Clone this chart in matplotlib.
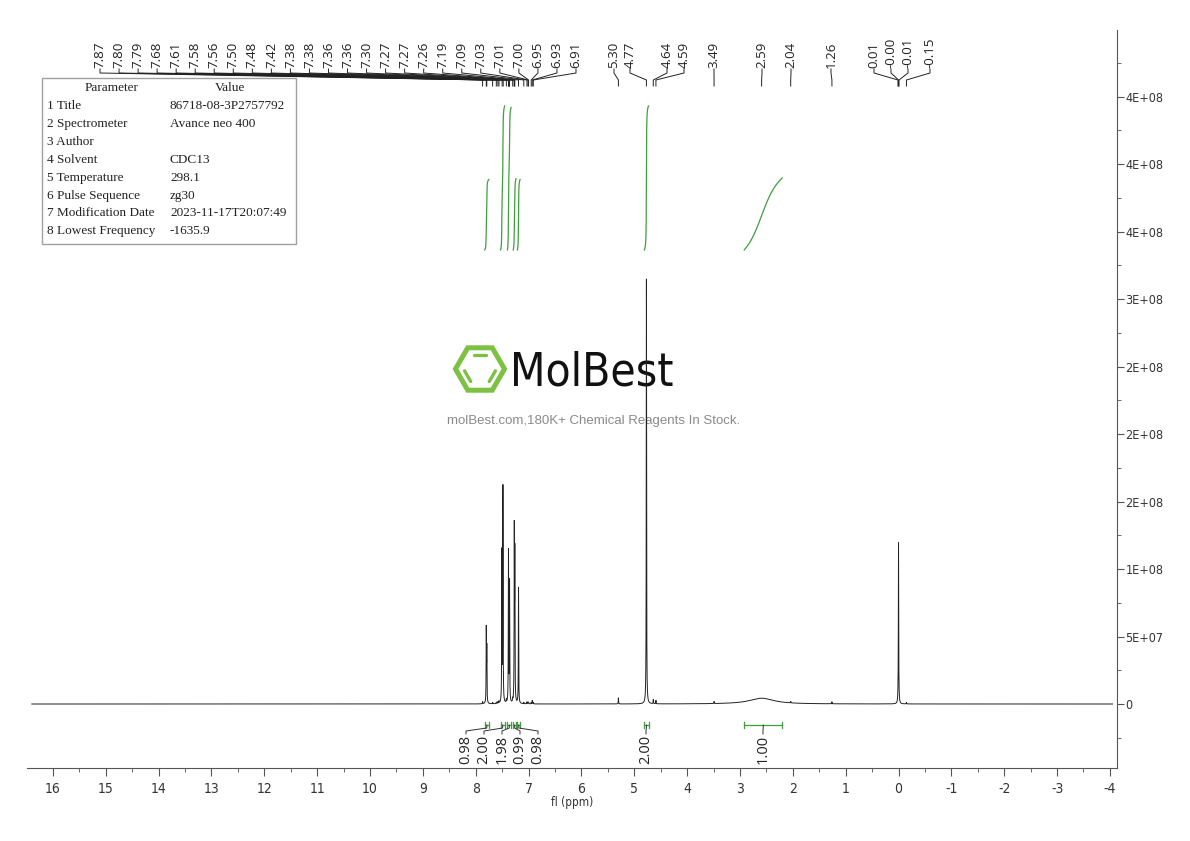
import numpy as np
import matplotlib
matplotlib.use("Agg")
import matplotlib.pyplot as plt
from matplotlib import font_manager as fm
from matplotlib.font_manager import FontProperties
from matplotlib.ticker import MultipleLocator, FuncFormatter
from matplotlib.patches import Rectangle, RegularPolygon

plt.rcParams['axes.unicode_minus'] = False

# ---- data ----
# sharp lines: shift (ppm) and height
peak_ppm = [7.87, 7.80, 7.79, 7.68, 7.61, 7.58, 7.56, 7.505, 7.485, 7.42,
            7.38, 7.36, 7.30, 7.27, 7.26, 7.19, 7.09, 7.03, 7.01, 7.00,
            6.95, 6.93, 6.91, 5.30, 4.77, 4.64, 4.59, 3.49, 2.04, 1.26,
            0.01, 0.00, -0.01, -0.15]
peak_height = [1.5e6, 5.4e7, 3.9e7, 1.0e6, 1.0e6, 1.2e6, 1.5e6, 1.11e8, 1.59e8, 2.0e6,
               1.12e8, 8.9e7, 2.0e6, 1.24e8, 1.05e8, 8.6e7, 1.0e6, 1.5e6, 1.0e6, 1.2e6,
               1.0e6, 2.5e6, 1.0e6, 4.5e6, 3.15e8, 3.0e6, 2.5e6, 1.5e6, 1.0e6, 1.5e6,
               3.0e6, 1.19e8, 3.0e6, 1.0e6]
# broad exchangeable hump
broad_ppm = 2.59
broad_height = 4.3e6
broad_width = 0.28

# labels over the peaks
top_labels = ['7.87', '7.80', '7.79', '7.68', '7.61', '7.58', '7.56', '7.50', '7.48', '7.42',
              '7.38', '7.38', '7.36', '7.36', '7.30', '7.27', '7.27', '7.26', '7.19', '7.09',
              '7.03', '7.01', '7.00', '6.95', '6.93', '6.91', '5.30', '4.77', '4.64', '4.59',
              '3.49', '2.59', '2.04', '1.26', '0.01', '-0.00', '-0.01', '-0.15']

# integration regions (from, to) and values
int_from = [7.83, 7.53, 7.40, 7.29, 7.21, 4.81, 2.92]
int_to = [7.75, 7.45, 7.33, 7.235, 7.16, 4.73, 2.20]
int_values = ['0.98', '2.00', '1.98', '0.99', '0.98', '2.00', '1.00']

param_names = ['1 Title', '2 Spectrometer', '3 Author', '4 Solvent', '5 Temperature',
               '6 Pulse Sequence', '7 Modification Date', '8 Lowest Frequency']
param_values = ['86718-08-3P2757792', 'Avance neo 400', '', 'CDC13', '298.1',
                'zg30', '2023-11-17T20:07:49', '-1635.9']

# ---- layout (pixels) ----
W, H = 1190, 841
AX_L, AX_R, AX_T, AX_B = 27, 1117, 30, 768
XLIM = (16.49, -4.134)
YLIM = (-4.74e7, 4.993e8)


def xdat(px):
    return XLIM[0] + (px - AX_L) / (AX_R - AX_L) * (XLIM[1] - XLIM[0])


def ydat(py):
    return YLIM[0] + (AX_B - py) / (AX_B - AX_T) * (YLIM[1] - YLIM[0])


# look for a condensed sans face for the tick labels and logo text
def find_narrow():
    rank = {'ultra-condensed': 0, 'extra-condensed': 0, 'condensed': 1, 'semi-condensed': 2}
    best = None
    for f in fm.fontManager.ttflist:
        if f.style != 'normal' or 'Mono' in f.name or 'Serif' in f.name:
            continue
        st = str(f.stretch)
        r = rank.get(st)
        if r is None and st.isdigit() and int(st) < 500:
            r = 1
        if r is None and ('Narrow' in f.name or 'Condensed' in f.name):
            r = 1
        if r is None:
            continue
        w = f.weight if isinstance(f.weight, (int, float)) else (700 if 'bold' in str(f.weight) else 400)
        key = (abs(w - 400), r)
        if best is None or key < best[0]:
            best = (key, f.fname)
    return best[1] if best else None


NARROW = find_narrow()


def nfont(size):
    if NARROW:
        return FontProperties(fname=NARROW, size=size)
    return FontProperties(family='DejaVu Sans', size=size * 0.8)


green = '#3f9f3f'
logo_green = '#7cc142'

fig = plt.figure(figsize=(W / 100, H / 100), dpi=100)

# overlay in pixel coords for watermark and table
bg = fig.add_axes([0, 0, 1, 1], zorder=0)
bg.set_xlim(0, W)
bg.set_ylim(H, 0)
bg.axis('off')

bg.add_patch(RegularPolygon((480, 369), 6, radius=24.5, orientation=np.pi / 6,
                            fill=False, ec=logo_green, lw=3.6))
r_in = 16.5
for a0, a1 in [(60, 120), (180, 240), (300, 360)]:
    p0 = np.array([480 + r_in * np.cos(np.radians(a0)), 369 - r_in * np.sin(np.radians(a0))])
    p1 = np.array([480 + r_in * np.cos(np.radians(a1)), 369 - r_in * np.sin(np.radians(a1))])
    m = (p0 + p1) / 2
    q0, q1 = m + (p0 - m) * 0.75, m + (p1 - m) * 0.75
    bg.plot([q0[0], q1[0]], [q0[1], q1[1]], color=logo_green, lw=2.4, solid_capstyle='round')
logo_fp = FontProperties(fname=NARROW, size=33) if NARROW else FontProperties(family='DejaVu Sans', size=27)
bg.text(510, 373, 'MolBest', ha='left', va='center', fontproperties=logo_fp, color='#111111')
bg.text(594, 421, 'molBest.com,180K+ Chemical Reagents In Stock.', ha='center', va='center',
        fontsize=9.5, color='#8a8a8a', family=['Liberation Sans', 'DejaVu Sans'])

bg.add_patch(Rectangle((42, 78), 254, 166, fill=False, ec='#a0a0a0', lw=1))
serif = ['Liberation Serif', 'DejaVu Serif']
bg.text(112, 88, 'Parameter', ha='center', va='center', fontsize=9.5, family=serif, color='#222')
bg.text(230, 88, 'Value', ha='center', va='center', fontsize=9.5, family=serif, color='#222')
for i, (n, v) in enumerate(zip(param_names, param_values)):
    y = 106 + i * 17.9
    bg.text(47, y, n, ha='left', va='center', fontsize=9.5, family=serif, color='#222')
    bg.text(170, y, v, ha='left', va='center', fontsize=9.5, family=serif, color='#222')

# ---- spectrum ----
ax = fig.add_axes([AX_L / W, 1 - AX_B / H, (AX_R - AX_L) / W, (AX_B - AX_T) / H], zorder=1)
ax.patch.set_visible(False)

ppm = np.linspace(16.4, -4.05, 60000)
spec = broad_height / (1 + ((ppm - broad_ppm) / broad_width) ** 2)
for p, h in zip(peak_ppm, peak_height):
    spec = spec + h / (1 + ((ppm - p) / 0.0035) ** 2)
ax.plot(ppm, spec, color='#222222', lw=0.7)

ax.set_xlim(*XLIM)
ax.set_ylim(*YLIM)

# integral curves
base = ydat(250)
unit = ydat(178) - base
for f, t, v in zip(int_from, int_to, int_values):
    m = (ppm <= f) & (ppm >= t)
    c = np.cumsum(spec[m])
    c = c / c[-1]
    ax.plot(ppm[m], base + float(v) * unit * c, color=green, lw=0.9)

# integration bars + labels
int_label_px = [466, 484, 502, 520, 538, 646, 763]
for f, t, v, lp in zip(int_from, int_to, int_values, int_label_px):
    yb = ydat(725)
    ax.plot([f, t], [yb, yb], color=green, lw=0.9, clip_on=False)
    for e in (f, t):
        ax.plot([e, e], [ydat(722), ydat(728)], color=green, lw=0.9, clip_on=False)
    cx = (f + t) / 2
    lx = xdat(lp)
    ax.plot([cx, cx, lx, lx], [ydat(725), ydat(728), ydat(731), ydat(734)],
            color='#333333', lw=0.7, clip_on=False)
    ax.text(lx, ydat(735), v, rotation=90, ha='center', va='top', fontsize=10.5,
            family=['Open Sans', 'DejaVu Sans'], color='#222')

# peak labels
top_px = list(np.linspace(100, 576, 26)) + [614, 630, 667, 684, 714, 762, 791, 831, 874, 891, 908, 930]
for lab, tp in zip(top_labels, top_px):
    lx = xdat(tp)
    pk = float(lab)
    ax.plot([lx, lx, pk, pk], [ydat(69), ydat(73), ydat(80), ydat(86)],
            color='#222222', lw=0.7, clip_on=False)
    ax.text(lx, ydat(68), lab, rotation=90, ha='center', va='bottom', fontsize=9.6,
            family=['Open Sans', 'DejaVu Sans'], color='#222')

# axes styling
for s in ['left', 'top']:
    ax.spines[s].set_visible(False)
ax.spines['right'].set_color('#555555')
ax.spines['bottom'].set_color('#555555')
ax.yaxis.tick_right()
ax.xaxis.set_major_locator(MultipleLocator(1))
ax.xaxis.set_minor_locator(MultipleLocator(0.5))
ax.yaxis.set_major_locator(MultipleLocator(5e7))
ax.yaxis.set_minor_locator(MultipleLocator(2.5e7))
ax.xaxis.set_major_formatter(FuncFormatter(lambda v, p: '%d' % round(v)))
ax.yaxis.set_major_formatter(FuncFormatter(lambda v, p: '0' if abs(v) < 1 else '%.0E' % v))
ax.tick_params(axis='x', which='major', length=6, color='#555555', pad=4, labelcolor='#333333')
ax.tick_params(axis='x', which='minor', length=3, color='#555555')
ax.tick_params(axis='y', which='major', length=5, color='#555555', pad=1, labelcolor='#333333')
ax.tick_params(axis='y', which='minor', length=3, color='#555555')
for lab in ax.get_xticklabels():
    lab.set_fontproperties(nfont(10))
for lab in ax.get_yticklabels():
    lab.set_fontproperties(nfont(9))
ax.set_xlabel('fl (ppm)', fontproperties=nfont(8.5), color='#333333', labelpad=0)

fig.savefig('out.png', dpi=100)
